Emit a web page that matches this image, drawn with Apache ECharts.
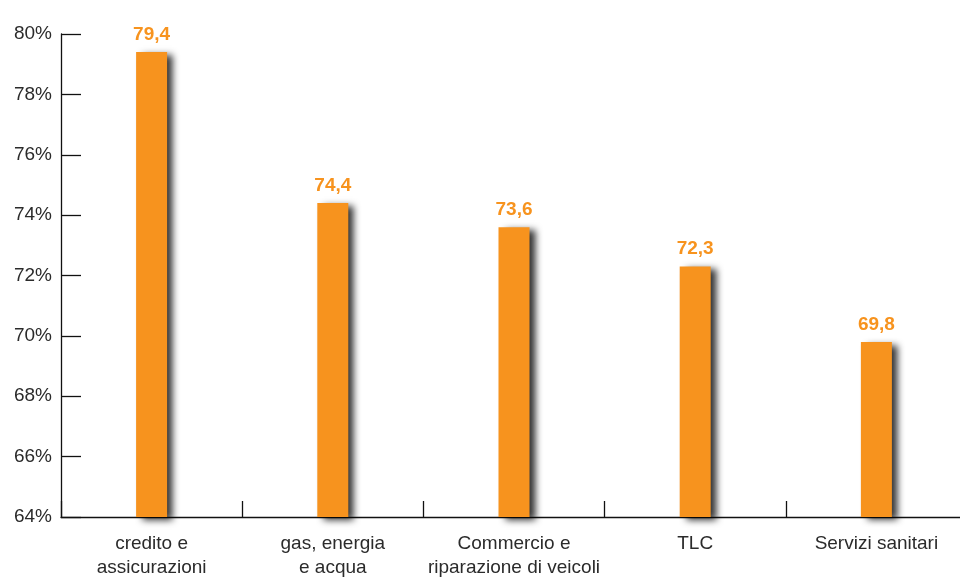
<!DOCTYPE html>
<html>
<head>
<meta charset="utf-8">
<script src="https://cdn.jsdelivr.net/npm/echarts@6/dist/echarts.min.js"></script>
<style>html,body{margin:0;padding:0;background:#fff}#c{width:960px;height:579px}</style>
</head>
<body>
<div id="c"></div>
<script>
const categories = ['credito e\nassicurazioni', 'gas, energia\ne acqua', 'Commercio e\nriparazione di veicoli', 'TLC', 'Servizi sanitari'];
const values = [79.4, 74.4, 73.6, 72.3, 69.8];
const yTicks = [64, 66, 68, 70, 72, 74, 76, 78, 80];

const chart = echarts.init(document.getElementById('c'), null, {renderer: 'canvas'});
chart.setOption({
  animation: false,
  backgroundColor: '#fff',
  grid: {left: 61, right: -7, top: 34, bottom: 62, containLabel: false, outerBoundsMode: 'none'},
  xAxis: {
    type: 'category',
    data: categories,
    axisLine: {lineStyle: {color: '#111', width: 1.3}},
    axisTick: {show: true, inside: true, length: 16, alignWithLabel: false, lineStyle: {color: '#111', width: 1.3}},
    axisLabel: {color: '#2b2b2b', fontFamily: 'Liberation Sans, Arial, sans-serif', fontSize: 19, lineHeight: 24, margin: 15, interval: 0}
  },
  yAxis: {
    type: 'value',
    min: yTicks[0],
    max: yTicks[yTicks.length - 1],
    interval: 2,
    splitLine: {show: false},
    axisLine: {show: true, lineStyle: {color: '#111', width: 1.3}},
    axisTick: {show: true, inside: true, length: 20, lineStyle: {color: '#111', width: 1.3}},
    axisLabel: {color: '#2b2b2b', fontFamily: 'Liberation Sans, Arial, sans-serif', fontSize: 19, margin: 9, formatter: v => v + '%'}
  },
  series: [{
    type: 'bar',
    data: values,
    barWidth: 31,
    itemStyle: {
      color: '#F7931E',
      shadowColor: 'rgba(0,0,0,0.8)',
      shadowBlur: 7,
      shadowOffsetX: 6,
      shadowOffsetY: 3
    },
    label: {
      show: true,
      position: 'top',
      distance: 8,
      color: '#F7931E',
      fontWeight: 'bold',
      fontSize: 19,
      fontFamily: 'Liberation Sans, Arial, sans-serif',
      formatter: p => String(p.value).replace('.', ',')
    }
  }]
});
</script>
</body>
</html>
